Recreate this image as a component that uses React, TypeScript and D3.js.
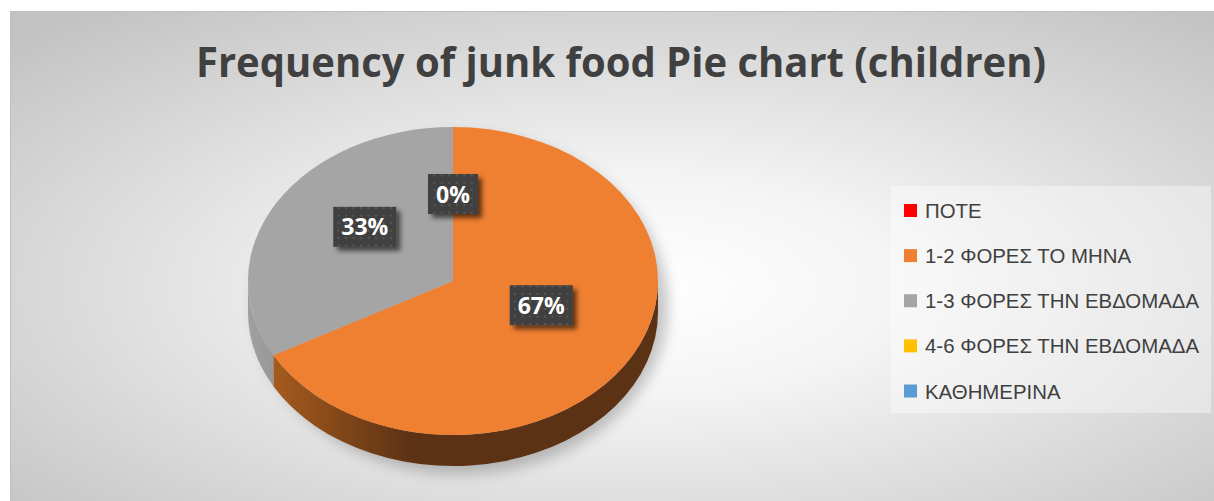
import React from "react";
import * as d3 from "d3";

const title = "Frequency of junk food Pie chart (children)";
const categories = [
  "ΠΟΤΕ",
  "1-2 ΦΟΡΕΣ ΤΟ ΜΗΝΑ",
  "1-3 ΦΟΡΕΣ ΤΗΝ ΕΒΔΟΜΑΔΑ",
  "4-6 ΦΟΡΕΣ ΤΗΝ ΕΒΔΟΜΑΔΑ",
  "ΚΑΘΗΜΕΡΙΝΑ",
];
const values = [0, 67, 33, 0, 0];
const colors = ["#FF0000", "#EF7F31", "#A5A5A5", "#FFC000", "#5B9BD5"];
const sideDark = ["#8a0000", "#5c3214", "#6e6e6e", "#8a6800", "#2f5577"];
const sideLight = ["#c00000", "#b2621f", "#a0a0a0", "#c09000", "#4a7ab0"];

const W = 1214;
const H = 501;
const cx = 453;
const cy = 281;
const rx = 205;
const ry = 154;
const depth = 31;

function P(a: number, yc: number): [number, number] {
  return [cx + rx * Math.sin(a), yc - ry * Math.cos(a)];
}

export default function App() {
  const pie = d3
    .pie<number>()
    .sort(null)
    .value((d) => d)
    .startAngle(0)
    .endAngle(2 * Math.PI);
  const arcs = pie(values);
  const total = d3.sum(values);
  const fmt = d3.format(".0%");

  const sides: { d: string; i: number }[] = [];
  arcs.forEach((a, i) => {
    if (a.endAngle - a.startAngle <= 0) return;
    const a0 = Math.max(a.startAngle, Math.PI / 2);
    const b0 = Math.min(a.endAngle, (3 * Math.PI) / 2);
    if (b0 <= a0) return;
    const p1 = P(a0, cy);
    const p2 = P(b0, cy);
    const p3 = P(b0, cy + depth);
    const p4 = P(a0, cy + depth);
    const d = `M${p1[0]},${p1[1]} A${rx},${ry} 0 0 1 ${p2[0]},${p2[1]} L${p3[0]},${p3[1]} A${rx},${ry} 0 0 0 ${p4[0]},${p4[1]} Z`;
    sides.push({ d, i });
  });

  const tops = arcs
    .map((a, i) => {
      if (a.endAngle - a.startAngle <= 0) return null;
      const p1 = P(a.startAngle, cy);
      const p2 = P(a.endAngle, cy);
      const large = a.endAngle - a.startAngle > Math.PI ? 1 : 0;
      return {
        i,
        d: `M${cx},${cy} L${p1[0]},${p1[1]} A${rx},${ry} 0 ${large} 1 ${p2[0]},${p2[1]} Z`,
      };
    })
    .filter(Boolean) as { i: number; d: string }[];

  const seen = new Set<string>();
  const labels = arcs
    .map((a, i) => {
      const mid = (a.startAngle + a.endAngle) / 2;
      const x = cx + 0.5 * rx * Math.sin(mid);
      const y = cy - 15 - 0.5 * ry * Math.cos(mid) + (a.value === 0 ? 5 : 0);
      const key = `${Math.round(x)}_${Math.round(y)}`;
      if (seen.has(key)) return null;
      seen.add(key);
      const text = fmt(a.value / total);
      return { x, y, text, i };
    })
    .filter(Boolean) as { x: number; y: number; text: string; i: number }[];

  const legendY = d3
    .scalePoint<string>()
    .domain(categories)
    .range([210.5, 391]);

  return (
    <svg
      width={W}
      height={H}
      style={{ position: "absolute", left: 0, top: 0 }}
      fontFamily="'Open Sans', sans-serif"
    >
      <defs>
        <radialGradient id="bg" cx="0.52" cy="0.55" r="0.72">
          <stop offset="0" stopColor="#ffffff" />
          <stop offset="0.3" stopColor="#f4f4f4" />
          <stop offset="1" stopColor="#c2c2c2" />
        </radialGradient>
        {sides.map((s) => (
          <linearGradient
            key={"g" + s.i}
            id={"side" + s.i}
            gradientUnits="userSpaceOnUse"
            x1={cx - rx}
            x2={cx + rx}
            y1={0}
            y2={0}
          >
            <stop offset="0" stopColor={sideLight[s.i]} />
            <stop offset="0.4" stopColor={sideDark[s.i]} />
            <stop offset="1" stopColor={sideDark[s.i]} />
          </linearGradient>
        ))}
        <pattern id="dots" width="7.5" height="7.5" patternUnits="userSpaceOnUse">
          <rect width="7.5" height="7.5" fill="#404040" />
          <circle cx="3.75" cy="3.75" r="1.1" fill="#585858" />
        </pattern>
        <filter id="lblShadow" x="-30%" y="-30%" width="170%" height="170%">
          <feGaussianBlur in="SourceAlpha" stdDeviation="2.5" />
          <feOffset dx="4" dy="4" result="o" />
          <feComponentTransfer>
            <feFuncA type="linear" slope="0.6" />
          </feComponentTransfer>
          <feMerge>
            <feMergeNode />
            <feMergeNode in="SourceGraphic" />
          </feMerge>
        </filter>
        <filter id="pieShadow" x="-20%" y="-20%" width="140%" height="150%">
          <feGaussianBlur stdDeviation="7" />
        </filter>
      </defs>

      <rect x={10.5} y={11.5} width={W} height={H} fill="url(#bg)" stroke="#bfbfbf" strokeWidth={1} />

      <text
        x={621}
        y={77}
        textAnchor="middle"
        fontSize={42}
        fontWeight="bold"
        fill="#404040"
        textLength={850}
        lengthAdjust="spacingAndGlyphs"
      >
        {title}
      </text>

      <ellipse
        cx={cx + 8}
        cy={cy + depth / 2 + 8}
        rx={rx + 2}
        ry={ry + depth / 2}
        fill="#000"
        opacity={0.22}
        filter="url(#pieShadow)"
      />

      {sides.map((s) => (
        <path key={"s" + s.i} d={s.d} fill={`url(#side${s.i})`} />
      ))}
      {tops.map((t) => (
        <path key={"t" + t.i} d={t.d} fill={colors[t.i]} />
      ))}

      {labels.map((l) => {
        const w = 24 + 13 * l.text.length;
        const h = 40;
        return (
          <g key={"l" + l.i} transform={`translate(${l.x},${l.y})`}>
            <rect x={-w / 2} y={-h / 2} width={w} height={h} fill="url(#dots)" filter="url(#lblShadow)" />
            <text x={0} y={8.5} textAnchor="middle" fontSize={23} fontWeight="bold" fill="#ffffff">
              {l.text}
            </text>
          </g>
        );
      })}

      <rect x={891} y={186} width={320} height={227} fill="#ffffff" opacity={0.38} />
      {categories.map((c, i) => {
        const y = legendY(c) as number;
        return (
          <g key={"lg" + i}>
            <rect x={904} y={y - 6.5} width={13} height={13} fill={colors[i]} />
            <text
              x={925}
              y={y + 7.5}
              fontSize={20.4}
              fill="#404040"
              fontFamily="'Liberation Sans', Arial, sans-serif"
            >
              {c}
            </text>
          </g>
        );
      })}
    </svg>
  );
}
